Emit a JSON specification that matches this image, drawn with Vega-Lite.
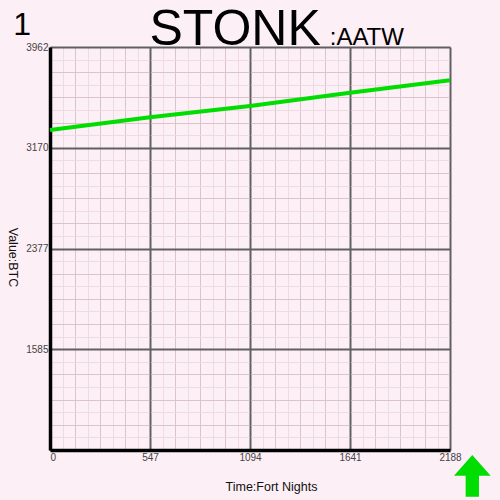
{
  "$schema": "https://vega.github.io/schema/vega-lite/v6.json",
  "autosize": "none",
  "width": 400,
  "height": 403,
  "padding": {"left": 50, "top": 47, "right": 50, "bottom": 50},
  "background": "#fdeff6",
  "layer": [
    {
      "data": {
        "values": [
          {"t": 0, "v": 3309},
          {"t": 547, "v": 3409},
          {"t": 1094, "v": 3498},
          {"t": 1641, "v": 3603},
          {"t": 2188, "v": 3700}
        ]
      },
      "mark": {"type": "line", "color": "#00dd00", "strokeWidth": 4},
      "encoding": {
        "x": {
          "field": "t",
          "type": "quantitative",
          "scale": {"domain": [0, 2188], "nice": false, "zero": false},
          "axis": {
            "title": "Time:Fort Nights",
            "titleFont": "Liberation Sans",
            "titleFontSize": 12.5,
            "titleFontWeight": "normal",
            "titleColor": "#111",
            "titleX": 221,
            "titleY": 36,
            "titleBaseline": "middle",
            "tickCount": 100,
            "values": [0, 68.375, 136.75, 205.125, 273.5, 341.875, 410.25, 478.625, 547, 615.375, 683.75, 752.125, 820.5, 888.875, 957.25, 1025.625, 1094, 1162.375, 1230.75, 1299.125, 1367.5, 1435.875, 1504.25, 1572.625, 1641, 1709.375, 1777.75, 1846.125, 1914.5, 1982.875, 2051.25, 2119.625, 2188],
            "labelExpr": "round(datum.value / 68.375) % 8 == 0 ? format(datum.value, 'd') : ''",
            "labelOverlap": false,
            "labelBound": false,
            "labelFlush": false,
            "labelFont": "Liberation Sans",
            "labelFontSize": 10,
            "labelColor": "#444",
            "labelPadding": 2,
            "labelDx": -3,
            "labelAlign": {"condition": {"test": "datum.value == 0", "value": "left"}, "value": "center"},
            "ticks": false,
            "domainColor": "black",
            "domainWidth": 3.5,
            "grid": true,
            "gridColor": {
              "condition": [
                {"test": "round(datum.value / 68.375) % 8 == 0", "value": "#606060"},
                {"test": "round(datum.value / 68.375) % 2 == 0", "value": "#dcc2cd"}
              ],
              "value": "#eddae2"
            },
            "gridWidth": {"condition": {"test": "round(datum.value / 68.375) % 8 == 0", "value": 2}, "value": 1},
            "gridOpacity": 1
          }
        },
        "y": {
          "field": "v",
          "type": "quantitative",
          "scale": {"domain": [792.5, 3962], "nice": false, "zero": false},
          "axis": {
            "title": "Value:BTC",
            "titleFont": "Liberation Sans",
            "titleFontSize": 12.5,
            "titleFontWeight": "normal",
            "titleColor": "#111",
            "titleAngle": 90,
            "titleX": -38,
            "titleY": 210,
            "titleAlign": "center",
            "titleBaseline": "middle",
            "tickCount": 100,
            "values": [792.5, 891.546875, 990.59375, 1089.640625, 1188.6875, 1287.734375, 1386.78125, 1485.828125, 1584.875, 1683.921875, 1782.96875, 1882.015625, 1981.0625, 2080.109375, 2179.15625, 2278.203125, 2377.25, 2476.296875, 2575.34375, 2674.390625, 2773.4375, 2872.484375, 2971.53125, 3070.578125, 3169.625, 3268.671875, 3367.71875, 3466.765625, 3565.8125, 3664.859375, 3763.90625, 3862.953125, 3962],
            "labelExpr": "round((datum.value - 792.5) / 99.046875) % 8 == 0 && datum.value > 800 ? format(datum.value, 'd') : ''",
            "labelOverlap": false,
            "labelBound": false,
            "labelFlush": false,
            "labelFont": "Liberation Sans",
            "labelFontSize": 10,
            "labelColor": "#444",
            "labelPadding": 2,
            "labelDy": -1,
            "ticks": false,
            "domainColor": "black",
            "domainWidth": 3.5,
            "grid": true,
            "gridColor": {
              "condition": [
                {"test": "round((datum.value - 792.5) / 99.046875) % 8 == 0", "value": "#606060"},
                {"test": "round((datum.value - 792.5) / 99.046875) % 2 == 0", "value": "#dcc2cd"}
              ],
              "value": "#eddae2"
            },
            "gridWidth": {"condition": {"test": "round((datum.value - 792.5) / 99.046875) % 8 == 0", "value": 2}, "value": 1},
            "gridDash": {"condition": {"test": "round((datum.value - 792.5) / 99.046875) % 8 == 0", "value": []}, "value": [98, 2]},
            "gridDashOffset": 99,
            "gridOpacity": 1
          }
        }
      }
    },
    {
      "data": {"values": [{"label": "STONK"}]},
      "mark": {"type": "text", "font": "Liberation Sans", "fontSize": 50, "align": "left", "baseline": "alphabetic", "color": "black"},
      "encoding": {
        "x": {"datum": 544, "type": "quantitative"},
        "y": {"datum": 3978, "type": "quantitative"},
        "text": {"field": "label"}
      }
    },
    {
      "data": {"values": [{"label": ":AATW"}]},
      "mark": {"type": "text", "font": "Liberation Sans", "fontSize": 24, "align": "left", "baseline": "alphabetic", "color": "black"},
      "encoding": {
        "x": {"datum": 1530, "type": "quantitative"},
        "y": {"datum": 3978, "type": "quantitative"},
        "text": {"field": "label"}
      }
    },
    {
      "data": {"values": [{"label": "1"}]},
      "mark": {"type": "text", "font": "Liberation Sans", "fontSize": 32, "align": "center", "baseline": "alphabetic", "color": "black"},
      "encoding": {
        "x": {"datum": -153, "type": "quantitative"},
        "y": {"datum": 4056, "type": "quantitative"},
        "text": {"field": "label"}
      }
    },
    {
      "data": {"values": [{"direction": "up"}]},
      "mark": {
        "type": "point",
        "shape": "M0,-1.136L1,0L0.363,0L0.363,1.136L-0.363,1.136L-0.363,0L-1,0Z",
        "size": 1347,
        "filled": true,
        "opacity": 1,
        "color": "#00dd00",
        "strokeWidth": 0
      },
      "encoding": {
        "x": {"datum": 2310, "type": "quantitative"},
        "y": {"datum": 589, "type": "quantitative"}
      }
    }
  ],
  "config": {
    "view": {"stroke": null}
  }
}
